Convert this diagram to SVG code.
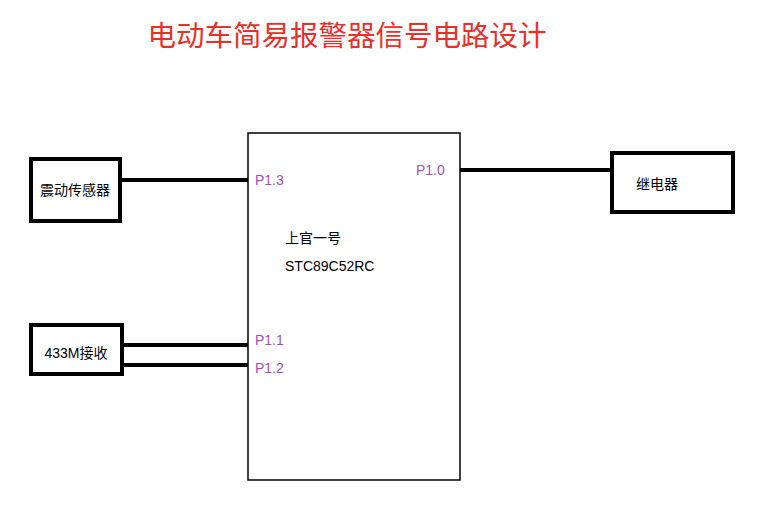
<svg xmlns="http://www.w3.org/2000/svg" width="762" height="505" viewBox="0 0 762 505">
<style>
.box{fill:#fff;stroke:#000;stroke-width:4}
.mcu{fill:#fff;stroke:#000;stroke-width:1.5}
.w{stroke:#000;stroke-width:4;fill:none}
.t{font-family:"Liberation Sans","Noto Sans CJK SC",sans-serif;font-size:14px;fill:#000}
.p{font-family:"Liberation Sans","Noto Sans CJK SC",sans-serif;font-size:14px;fill:#a050b0}
</style>
<rect width="762" height="505" fill="#fff"/>
<text x="347" y="46" text-anchor="middle" font-family="Liberation Sans,Noto Sans CJK SC,sans-serif" font-size="28.5" fill="#e8302a">电动车简易报警器信号电路设计</text>
<g id="connectors">
<line class="w" x1="120" y1="180" x2="248" y2="180"/>
<line class="w" x1="460" y1="170" x2="612" y2="170"/>
<line class="w" x1="122" y1="345" x2="248" y2="345"/>
<line class="w" x1="122" y1="365" x2="248" y2="365"/>
</g>
<g id="mcu"><rect class="mcu" x="248" y="133" width="212" height="347"/>
<text class="p" x="255" y="185">P1.3</text>
<text class="p" x="416" y="175">P1.0</text>
<text class="p" x="255" y="345">P1.1</text>
<text class="p" x="255" y="373">P1.2</text>
<text class="t" x="285" y="243">上官一号</text>
<text class="t" x="285" y="271">STC89C52RC</text></g>
<g id="sensor"><rect class="box" x="31" y="159" width="89" height="62"/><text class="t" x="75" y="195" text-anchor="middle">震动传感器</text></g>
<g id="relay"><rect class="box" x="612" y="153" width="121" height="59"/><text class="t" x="636" y="189">继电器</text></g>
<g id="rx"><rect class="box" x="31" y="325" width="91" height="49"/><text class="t" x="76" y="358" text-anchor="middle">433M接收</text></g>
</svg>
